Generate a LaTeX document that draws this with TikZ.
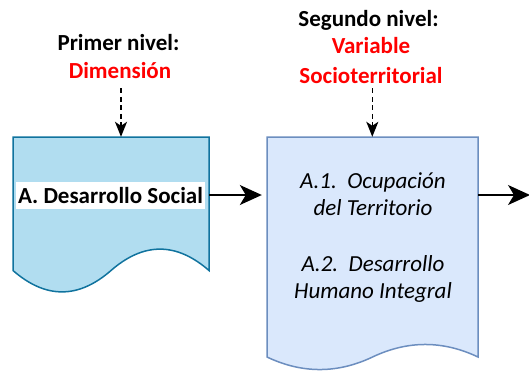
\documentclass[tikz,border=0pt]{standalone}
\usepackage{fontspec}
\setmainfont{Carlito}
\usetikzlibrary{arrows.meta,calc}
\definecolor{docAfill}{HTML}{B1DDF0}
\definecolor{docAline}{HTML}{10739E}
\definecolor{docBfill}{HTML}{DAE8FC}
\definecolor{docBline}{HTML}{6C8EBF}
\definecolor{lblred}{HTML}{FF0000}
\tikzset{
  bigfont/.style={font=\fontsize{23}{27.6}\selectfont},
  title/.style={bigfont, font=\fontsize{23}{27.6}\selectfont\bfseries, inner sep=0pt, anchor=base},
  redtitle/.style={title, text=lblred},
  frame/.style={draw=none, inner sep=0pt},
  solidarrow/.style={line width=1.5pt, -{Stealth[length=22pt,width=20pt,inset=6pt]}},
  dasharrow/.style={line width=1.5pt, dash pattern=on 5pt off 3.5pt, -{Stealth[length=15pt,width=12pt,inset=4pt]}},
}
\begin{document}
\begin{tikzpicture}[x=1pt,y=-1pt]
\useasboundingbox (0,0) rectangle (529,370);
% document shapes
\draw[fill=docAfill, draw=docAline, line width=1.5pt]
  (13,137) -- (209,137) -- (209,270.5)
  .. controls (176.33,242) and (143.67,242) .. (111,270.5)
  .. controls (78.33,299) and (45.67,299) .. (13,270.5) -- cycle;
\draw[fill=docBfill, draw=docBline, line width=1.5pt]
  (267,137) -- (478,137) -- (478,357)
  .. controls (442.83,340.3) and (407.67,340.3) .. (372.5,357)
  .. controls (337.33,373.7) and (302.17,373.7) .. (267,357) -- cycle;
% invisible frames of the documents
\node[frame, minimum width=196pt, minimum height=133.5pt] (docA) at (111,203.75) {};
\node[frame, minimum width=211pt, minimum height=220pt] (docB) at (372.5,247) {};
% labels
\node[fill=white, inner xsep=2pt, inner ysep=0pt, minimum height=27pt, font=\fontsize{23}{27.6}\selectfont\bfseries] (lblA) at (110.5,195.5) {A. Desarrollo Social};
\node[align=center, inner sep=0pt, font=\fontsize{23}{27.6}\selectfont\itshape] (lblB) at (373,237.5)
  {A.1.\ \ Ocupación\\del Territorio\\[27.6pt]A.2.\ \ Desarrollo\\Humano Integral};
\node[title] (t1) at (118.5,50) {Primer nivel:};
\node[redtitle] (t2) at (120,78.5) {Dimensión};
\node[title] (t3) at (368.5,26) {Segundo nivel:};
\node[redtitle] (t4) at (371,53.3) {Variable};
\node[redtitle] (t5) at (371,83.3) {Socioterritorial};
\coordinate (out) at (530,195);
% connectors
\draw[dasharrow] ([shift={(1pt,-9.5pt)}]t2.south) -- ([xshift=1pt]t2.south |- docA.north);
\draw[dasharrow] ([shift={(1.3pt,-4.7pt)}]t5.south) -- ([xshift=1.3pt]t5.south |- docB.north);
\draw[solidarrow, shorten >=5pt] (docA.east |- out) -- (docB.west |- out);
\draw[solidarrow] (docB.east |- out) -- (out);
\end{tikzpicture}
\end{document}
